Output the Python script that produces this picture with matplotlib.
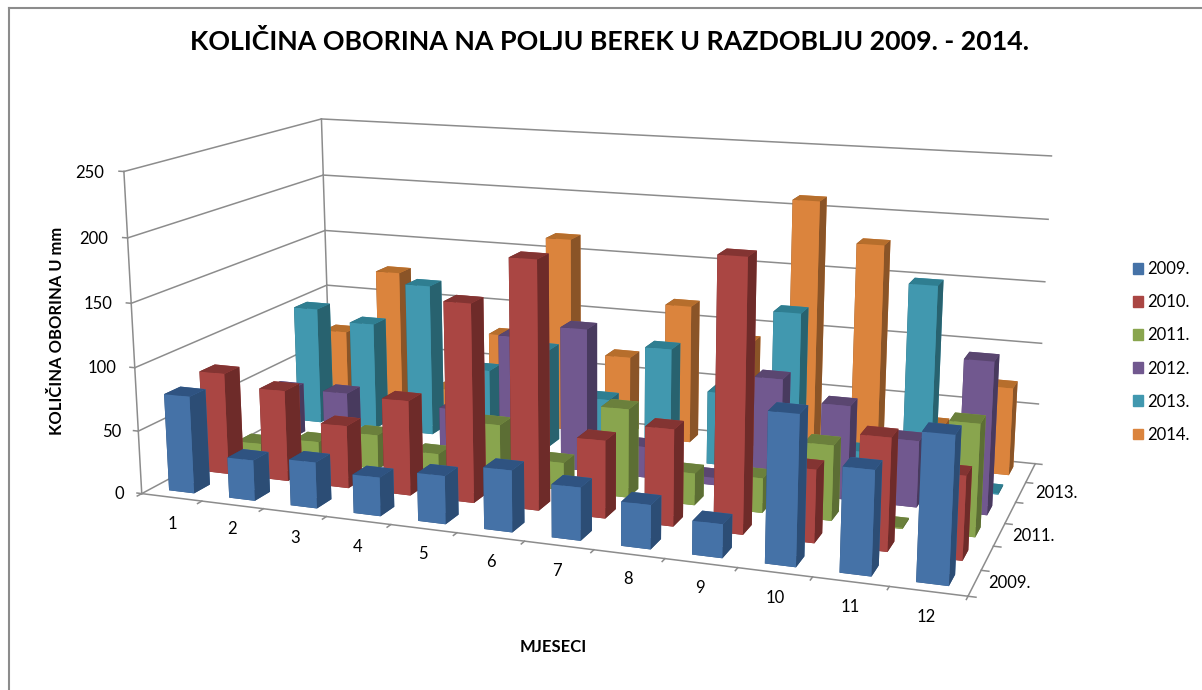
import numpy as np
import matplotlib
matplotlib.use('Agg')
import matplotlib.pyplot as plt
from matplotlib.patches import Patch

plt.rcParams['font.family'] = ['Lato', 'DejaVu Sans']

# DATA
years = ['2009.', '2010.', '2011.', '2012.', '2013.', '2014.']
months = ['1', '2', '3', '4', '5', '6', '7', '8', '9', '10', '11', '12']
r2009 = [77, 32, 36, 30, 37, 47, 40, 33, 25, 110, 76, 106]
r2010 = [82, 73, 50, 75, 155, 192, 60, 74, 205, 55, 84, 62]
r2011 = [10, 17, 28, 18, 47, 22, 70, 25, 27, 58, 1, 85]
r2012 = [42, 44, 10, 40, 105, 116, 25, 6, 90, 74, 52, 118]
r2013 = [100, 91, 128, 60, 82, 45, 92, 60, 130, 23, 160, 1]
r2014 = [68, 125, 25, 78, 165, 68, 116, 90, 210, 178, 35, 71]
rain = [r2009, r2010, r2011, r2012, r2013, r2014]
z_ticks = [0, 50, 100, 150, 200, 250]
depth_labels = ['2009.', '2011.', '2013.']

front = ['#4572A7', '#AA4643', '#89A54E', '#71588F', '#4198AF', '#DB843D']
top = ['#2F5381', '#833432', '#6B803C', '#5A4670', '#2F7E91', '#B66E2C']
side = ['#2C4D75', '#6E2B29', '#5C6E34', '#483A5E', '#28626F', '#8A5427']

# FIGURE SETUP
W, H = 1202, 690
fig = plt.figure(figsize=(W / 100, H / 100), dpi=100)

# camera and box fitted to the corners of the walls
S = 942.2
ax = fig.add_axes([115.2 / W, -117.7 / H, S / W, S / H], projection='3d', computed_zorder=False)
ax.set_xlim(0, 12)
ax.set_ylim(0, 6)
ax.set_zlim(0, 250)
ax.view_init(elev=13.406, azim=-70.023)
ax.set_proj_type('persp', focal_length=0.394)
ax.set_box_aspect((1, 0.492, 0.394))
ax.set_axis_off()


def fx(x, y):
    return x / W, 1 - y / H


# WALLS AND TICKS
grey = '#8c8c8c'
line = dict(color=grey, lw=1.1, zorder=1)
for z in z_ticks:
    ax.plot([0, 0], [0, 6], [z, z], **line)
    ax.plot([0, 12], [6, 6], [z, z], **line)
    ax.plot([-0.08, 0], [0, 0], [z, z], **line)
ax.plot([0, 0], [0, 0], [0, 250], **line)
ax.plot([0, 0], [6, 6], [0, 250], **line)
ax.plot([0, 12], [0, 0], [0, 0], **line)
ax.plot([12, 12], [0, 6], [0, 0], **line)
for m in range(13):
    ax.plot([m, m], [-0.12, 0], [0, 0], **line)
for j in range(7):
    ax.plot([12, 12.1], [j, j], [0, 0], **line)

# BARS, back to front
bw, bd = 0.42, 0.45
zo = 2
for j in range(5, -1, -1):
    for m in range(12):
        cols = [top[j], top[j], front[j], front[j], side[j], side[j]]
        ax.bar3d(m + (1 - bw) / 2, j + (1 - bd) / 2, 0, bw, bd, rain[j][m],
                 color=cols, shade=False, zorder=zo)
        zo += 1

# TEXT
fig.text(*fx(610, 42), 'KOLIČINA OBORINA NA POLJU BEREK U RAZDOBLJU 2009. - 2014.',
         fontsize=19.3, fontweight='bold', ha='center', va='center')
fig.text(*fx(57, 331), 'KOLIČINA OBORINA U mm', fontsize=11.9, fontweight='bold',
         rotation=90, ha='center', va='center')
fig.text(*fx(553, 647), 'MJESECI', fontsize=12, fontweight='bold', ha='center', va='center')

month_x = [172, 232, 295, 358, 423, 491, 557, 628, 700, 775, 850, 926]
month_y = [524, 529, 538, 547, 554, 562, 571, 579, 588, 598, 607, 617]
for s, x, y in zip(months, month_x, month_y):
    fig.text(*fx(x, y), s, fontsize=12, ha='center', va='center')
for z, x, y in zip(z_ticks, [124, 121, 116, 112, 108, 104], [494, 432, 368, 304, 239, 173]):
    fig.text(*fx(x, y), str(z), fontsize=12, ha='right', va='center')
for s, x, y in zip(depth_labels, [988, 1012, 1035], [583, 536, 493]):
    fig.text(*fx(x, y), s, fontsize=12, ha='left', va='center')

handles = [Patch(color=c) for c in front]
fig.legend(handles, years, loc='center left', bbox_to_anchor=(1118 / W, 1 - 352 / H), frameon=False,
           fontsize=12, handlelength=0.62, handleheight=0.62, labelspacing=1.03, handletextpad=0.23)

# OUTER FRAME
frame = dict(color='#8c8c8c', lw=1.5, transform=fig.transFigure)
fig.add_artist(plt.Line2D([8.5 / W, 8.5 / W], [0, 1 - 7.5 / H], **frame))
fig.add_artist(plt.Line2D([8.5 / W, 1], [1 - 7.5 / H, 1 - 7.5 / H], **frame))

fig.savefig('out.png', dpi=100)
